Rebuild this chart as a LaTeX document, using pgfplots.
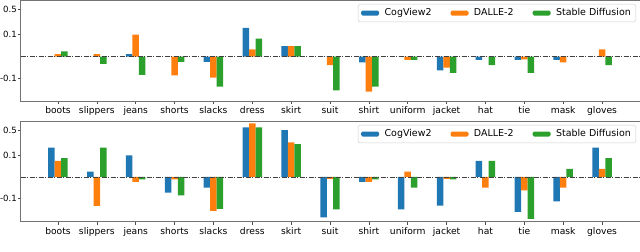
\documentclass[border=0pt]{standalone}
\usepackage{pgfplots}
\pgfplotsset{compat=1.18}
\usepackage{pgfplotstable}
\usepackage{fontspec}
\setmainfont{DejaVu Sans}
\definecolor{cvblue}{HTML}{1F77B4}
\definecolor{daorange}{HTML}{FF7F0E}
\definecolor{sdgreen}{HTML}{2CA02C}

% values (symlog y scale, linear below 0.1)
\pgfplotstableread{
idx cv da sd
0  0      0.012  0.024
1  0      0.012  -0.033
2  0.012  0.10   -0.083
3  0      -0.085 -0.023
4  -0.023 -0.095 -0.165
5  0.154  0.033  0.082
6  0.048  0.048  0.048
7  0      -0.038 -0.208
8  -0.026 -0.226 -0.164
9  0      -0.014 -0.014
10 -0.062 -0.050 -0.073
11 -0.014 0      -0.038
12 -0.014 -0.012 -0.073
13 -0.014 -0.026 0
14 0      0.033  -0.038
}\toptable

\pgfplotstableread{
idx cv da sd
0  0.165  0.075  0.0875
1  0.025  -0.162 0.165
2  0.100  -0.023 -0.011
3  -0.073 -0.011 -0.086
4  -0.050 -0.221 -0.196
5  0.605  0.794  0.605
6  0.513  0.231  0.208
7  -0.337 -0.009 -0.200
8  -0.023 -0.023 -0.011
9  -0.200 0.025  -0.050
10 -0.158 -0.009 -0.011
11 0.075  -0.050 0.075
12 -0.236 -0.0625 -0.373
13 -0.121 -0.050 0.0375
14 0.165  0.0375 0.0875
}\bottable

\pgfplotsset{
  panel/.style={
    scale only axis,
    width=619.3bp,
    ybar,
    bar width=0.167,
    xmin=-0.959, xmax=14.977,
    xtick={0,...,14},
    xticklabels={boots,slippers,jeans,shorts,slacks,dress,skirt,suit,shirt,uniform,jacket,hat,tie,mask,gloves},
    ytick={-0.6,0.6,1.299},
    yticklabels={-0.1,0.1,0.5},
    tick align=outside,
    tick pos=left,
    major tick length=3bp,
    tick style={black!70, line width=0.5bp},
    axis line style={black!55, line width=0.6bp},
    xticklabel style={font=\fontsize{9.2}{10}\selectfont, yshift=0.5bp},
    yticklabel style={font=\fontsize{8.6}{10}\selectfont, inner sep=1bp, xshift=0.3bp},
    /pgf/number format/assume math mode=true,
    legend style={at={(1,1)}, anchor=north east, xshift=-4bp, yshift=-4bp,
      legend columns=3, draw=black!20, rounded corners=1.5bp,
      font=\fontsize{9.5}{10}\selectfont, inner xsep=3bp, inner ysep=2.5bp,
      /tikz/every odd column/.append style={column sep=3.5bp},
      /tikz/every even column/.append style={column sep=17bp}},
    legend image code/.code={\fill[##1] (0bp,-2.5bp) rectangle (18bp,2.5bp);},
    declare function={sl(\v)=sign(\v)*(6*min(abs(\v),0.1)+log10(max(abs(\v),0.1)/0.1));},
  },
}

\begin{document}
\begin{tikzpicture}
\path[use as bounding box] (0,0) rectangle (640bp,252bp);

\begin{axis}[panel, at={(20.7bp,151bp)}, anchor=south west, height=101bp,
  ymin=-1.208, ymax=1.546]
\addplot[fill=cvblue, draw=none, bar shift=-0.167] table[x=idx, y expr={sl(\thisrow{cv})}] {\toptable};
\addplot[fill=daorange, draw=none, bar shift=0] table[x=idx, y expr={sl(\thisrow{da})}] {\toptable};
\addplot[fill=sdgreen, draw=none, bar shift=0.167] table[x=idx, y expr={sl(\thisrow{sd})}] {\toptable};
\legend{CogView2,DALLE-2,Stable Diffusion}
\draw[black!75, line width=0.8bp, dash pattern=on 5bp off 1.5bp on 1bp off 1.5bp]
  (axis cs:-0.959,0) -- (axis cs:14.977,0);
\end{axis}

\begin{axis}[panel, at={(20.7bp,30.3bp)}, anchor=south west, height=100.7bp,
  ymin=-1.248, ymax=1.563]
\addplot[fill=cvblue, draw=none, bar shift=-0.167] table[x=idx, y expr={sl(\thisrow{cv})}] {\bottable};
\addplot[fill=daorange, draw=none, bar shift=0] table[x=idx, y expr={sl(\thisrow{da})}] {\bottable};
\addplot[fill=sdgreen, draw=none, bar shift=0.167] table[x=idx, y expr={sl(\thisrow{sd})}] {\bottable};
\legend{CogView2,DALLE-2,Stable Diffusion}
\draw[black!75, line width=0.8bp, dash pattern=on 5bp off 1.5bp on 1bp off 1.5bp]
  (axis cs:-0.959,0) -- (axis cs:14.977,0);
\end{axis}
\end{tikzpicture}
\end{document}
